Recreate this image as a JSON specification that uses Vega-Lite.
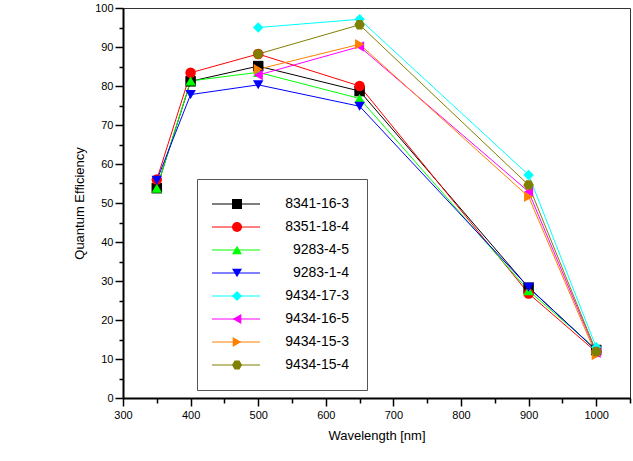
{
  "$schema": "https://vega.github.io/schema/vega-lite/v6.json",
  "width": 507,
  "height": 390,
  "autosize": "none",
  "padding": {"left": 123, "top": 8, "right": 3, "bottom": 63},
  "config": {
    "font": "Liberation Sans",
    "view": {"stroke": "#333", "strokeWidth": 1},
    "axis": {
      "grid": false,
      "domainColor": "#000",
      "domainWidth": 2,
      "tickColor": "#000",
      "tickWidth": 1.5,
      "labelColor": "#000",
      "labelFontSize": 11,
      "labelFont": "Liberation Sans",
      "titleFont": "Liberation Sans",
      "titleFontSize": 13,
      "titleFontWeight": "normal",
      "titleColor": "#000",
      "labelFlush": false,
      "labelOverlap": false
    }
  },
  "data": {
    "values": [
      {"series": "8341-16-3", "wl": 350, "qe": 53.8},
      {"series": "8341-16-3", "wl": 400, "qe": 81.2},
      {"series": "8341-16-3", "wl": 500, "qe": 85.1},
      {"series": "8341-16-3", "wl": 650, "qe": 78.7},
      {"series": "8341-16-3", "wl": 900, "qe": 28.3},
      {"series": "8341-16-3", "wl": 1000, "qe": 12.3},
      {"series": "8351-18-4", "wl": 350, "qe": 56.0},
      {"series": "8351-18-4", "wl": 400, "qe": 83.4},
      {"series": "8351-18-4", "wl": 500, "qe": 88.2},
      {"series": "8351-18-4", "wl": 650, "qe": 80.0},
      {"series": "8351-18-4", "wl": 900, "qe": 26.8},
      {"series": "8351-18-4", "wl": 1000, "qe": 11.8},
      {"series": "9283-4-5", "wl": 350, "qe": 53.8},
      {"series": "9283-4-5", "wl": 400, "qe": 81.3},
      {"series": "9283-4-5", "wl": 500, "qe": 83.5},
      {"series": "9283-4-5", "wl": 650, "qe": 76.8},
      {"series": "9283-4-5", "wl": 900, "qe": 27.5},
      {"series": "9283-4-5", "wl": 1000, "qe": 12.5},
      {"series": "9283-1-4", "wl": 350, "qe": 55.8},
      {"series": "9283-1-4", "wl": 400, "qe": 77.8},
      {"series": "9283-1-4", "wl": 500, "qe": 80.3},
      {"series": "9283-1-4", "wl": 650, "qe": 74.8},
      {"series": "9283-1-4", "wl": 900, "qe": 28.4},
      {"series": "9283-1-4", "wl": 1000, "qe": 12.2},
      {"series": "9434-17-3", "wl": 500, "qe": 95.0},
      {"series": "9434-17-3", "wl": 650, "qe": 97.1},
      {"series": "9434-17-3", "wl": 900, "qe": 57.2},
      {"series": "9434-17-3", "wl": 1000, "qe": 13.0},
      {"series": "9434-16-5", "wl": 500, "qe": 82.8},
      {"series": "9434-16-5", "wl": 650, "qe": 90.1},
      {"series": "9434-16-5", "wl": 900, "qe": 52.9},
      {"series": "9434-16-5", "wl": 1000, "qe": 11.6},
      {"series": "9434-15-3", "wl": 500, "qe": 84.3},
      {"series": "9434-15-3", "wl": 650, "qe": 90.7},
      {"series": "9434-15-3", "wl": 900, "qe": 51.6},
      {"series": "9434-15-3", "wl": 1000, "qe": 11.0},
      {"series": "9434-15-4", "wl": 500, "qe": 88.2},
      {"series": "9434-15-4", "wl": 650, "qe": 95.7},
      {"series": "9434-15-4", "wl": 900, "qe": 54.6},
      {"series": "9434-15-4", "wl": 1000, "qe": 11.9}
    ]
  },
  "encoding": {
    "x": {
      "field": "wl",
      "type": "quantitative",
      "scale": {"domain": [300, 1050], "nice": false, "zero": false},
      "axis": {
        "title": "Wavelength [nm]",
        "format": "d",
        "values": [300, 350, 400, 450, 500, 550, 600, 650, 700, 750, 800, 850, 900, 950, 1000, 1050],
        "labelExpr": "datum.value % 100 === 0 && datum.value <= 1000 ? datum.label : ''",
        "tickSize": {"condition": {"test": "datum.value % 100 === 0", "value": 8}, "value": 5},
        "labelPadding": 3,
        "titlePadding": 9
      }
    },
    "y": {
      "field": "qe",
      "type": "quantitative",
      "scale": {"domain": [0, 100], "nice": false},
      "axis": {
        "title": "Quantum Efficiency",
        "format": "d",
        "values": [0, 5, 10, 15, 20, 25, 30, 35, 40, 45, 50, 55, 60, 65, 70, 75, 80, 85, 90, 95, 100],
        "labelExpr": "datum.value % 10 === 0 ? datum.label : ''",
        "tickSize": {"condition": {"test": "datum.value % 10 === 0", "value": 8}, "value": 4},
        "labelPadding": 2,
        "titlePadding": 8
      }
    }
  },
  "layer": [
    {
      "mark": {"type": "line", "strokeWidth": 1},
      "encoding": {
        "stroke": {
          "field": "series",
          "type": "nominal",
          "sort": null,
          "scale": {
            "range": ["#000000", "#FF0000", "#00FF00", "#0000FF", "#00FFFF", "#FF00FF", "#FF8000", "#808000"]
          },
          "legend": {
            "orient": "none",
            "legendX": 88,
            "legendY": 171,
            "title": null,
            "symbolType": "M-4,0H4",
            "symbolSize": 144,
            "symbolStrokeWidth": 1,
            "symbolFillColor": "transparent",
            "labelFontSize": 14,
            "labelExpr": "''",
            "padding": 18,
            "rowPadding": 9
          }
        }
      }
    },
    {
      "mark": {"type": "point", "filled": true, "size": 110, "opacity": 1, "strokeWidth": 0},
      "encoding": {
        "fill": {
          "field": "series",
          "type": "nominal",
          "scale": {
            "domain": ["8341-16-3", "8351-18-4", "9283-4-5", "9283-1-4", "9434-17-3", "9434-16-5", "9434-15-3", "9434-15-4"],
            "range": ["#000000", "#FF0000", "#00FF00", "#0000FF", "#00FFFF", "#FF00FF", "#FF8000", "#808000"]
          },
          "legend": {
            "orient": "none",
            "legendX": 74,
            "legendY": 171,
            "title": null,
            "labelFontSize": 14,
            "labelFont": "Liberation Sans",
            "labelColor": "#000",
            "labelAlign": "right",
            "labelOffset": 105,
            "labelLimit": 200,
            "symbolOffset": 15,
            "padding": 18,
            "rowPadding": 9,
            "symbolStrokeWidth": 0,
            "symbolOpacity": 1,
            "strokeColor": "#555"
          }
        },
        "shape": {
          "field": "series",
          "type": "nominal",
          "scale": {
            "domain": ["8341-16-3", "8351-18-4", "9283-4-5", "9283-1-4", "9434-17-3", "9434-16-5", "9434-15-3", "9434-15-4"],
            "range": ["square", "circle", "triangle-up", "triangle-down", "diamond", "triangle-left", "triangle-right", "M-0.5,-0.9L0.5,-0.9L1,0L0.5,0.9L-0.5,0.9L-1,0Z"]
          },
          "legend": {
            "orient": "none",
            "legendX": 74,
            "legendY": 171,
            "title": null,
            "labelFontSize": 14,
            "labelFont": "Liberation Sans",
            "labelColor": "#000",
            "labelAlign": "right",
            "labelOffset": 105,
            "labelLimit": 200,
            "symbolOffset": 15,
            "padding": 18,
            "rowPadding": 9,
            "symbolStrokeWidth": 0,
            "symbolOpacity": 1,
            "strokeColor": "#555"
          }
        }
      }
    }
  ]
}
